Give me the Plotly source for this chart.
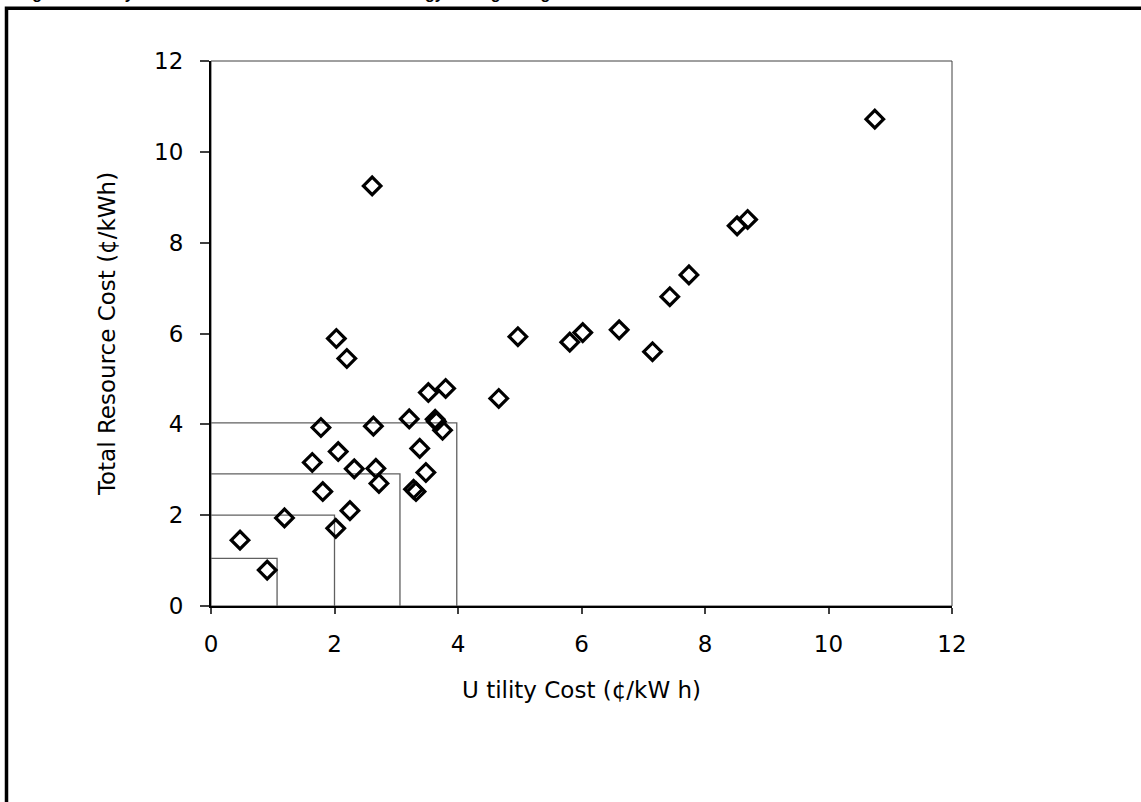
import plotly.graph_objects as go

# Program data: utility cost vs total resource cost (cents/kWh)
utility_cost = [0.47, 0.91, 1.19, 1.64, 1.78, 1.81, 2.02, 2.03, 2.06, 2.20, 2.25, 2.32,
                2.61, 2.63, 2.67, 2.72, 3.21, 3.28, 3.32, 3.38, 3.48, 3.52, 3.63, 3.65,
                3.75, 3.80, 4.66, 4.97, 5.81, 6.02, 6.61, 7.15, 7.43, 7.74, 8.52, 8.69, 10.75]
total_resource_cost = [1.45, 0.79, 1.94, 3.16, 3.93, 2.52, 1.71, 5.89, 3.40, 5.45, 2.10, 3.02,
                       9.25, 3.96, 3.03, 2.70, 4.12, 2.57, 2.52, 3.47, 2.94, 4.70, 4.11, 4.06,
                       3.87, 4.79, 4.57, 5.93, 5.81, 6.02, 6.08, 5.60, 6.81, 7.29, 8.37, 8.51, 10.72]

# Reference step lines (corner points)
step_x = [1.07, 2.00, 3.06, 3.98]
step_y = [1.05, 2.00, 2.91, 4.03]

tick_vals = [0, 2, 4, 6, 8, 10, 12]
tick_text = ["0", "2", "4", "6", "8", "10", "12"]

W, H = 1141, 802
ML, MR, MT, MB = 211, 189, 61, 196
PW, PH = W - ML - MR, H - MT - MB

fig = go.Figure()

for sx, sy in zip(step_x, step_y):
    fig.add_trace(go.Scatter(
        x=[0, sx, sx], y=[sy, sy, 0], mode="lines",
        line=dict(color="#606060", width=1.3), hoverinfo="skip", showlegend=False))

fig.add_trace(go.Scatter(
    x=utility_cost, y=total_resource_cost, mode="markers",
    marker=dict(symbol="diamond-open", size=13.5, color="black",
                line=dict(color="black", width=3.2)),
    showlegend=False))

font = "DejaVu Sans, Liberation Sans, Arial, sans-serif"

fig.update_layout(
    width=W, height=H,
    margin=dict(l=ML, r=MR, t=MT, b=MB),
    paper_bgcolor="white", plot_bgcolor="white",
    font=dict(family=font, size=23, color="black"),
    xaxis=dict(range=[0, 12], tickvals=tick_vals, ticktext=tick_text,
               showgrid=False, zeroline=False, showline=True, linecolor="black", linewidth=2,
               ticks="outside", ticklen=6, tickwidth=1.5, tickcolor="#404040",
               ticklabelstandoff=10,
               title=dict(text="U tility Cost (¢/kW h)", standoff=26,
                          font=dict(family=font, size=23))),
    yaxis=dict(range=[0, 12], tickvals=tick_vals, ticktext=tick_text,
               showgrid=False, zeroline=False, showline=True, linecolor="black", linewidth=2,
               ticks="outside", ticklen=9, tickwidth=1.5, tickcolor="#404040",
               ticklabelstandoff=12,
               title=dict(text="Total Resource Cost (¢/kWh)", standoff=32,
                          font=dict(family=font, size=23))),
)

# plot frame (top/right thin)
fig.add_shape(type="rect", xref="paper", yref="paper", x0=0, x1=1, y0=0, y1=1,
              line=dict(color="#404040", width=1), layer="below")

# outer figure border (extends beyond the visible page on right/bottom)
def px_x(p):
    return (p - ML) / PW

def px_y(p):
    return (H - MB - p) / PH

fig.add_shape(type="rect", xref="paper", yref="paper",
              x0=px_x(6.5), x1=px_x(1160), y0=px_y(830), y1=px_y(8.3),
              line=dict(color="black", width=3.5))

# clipped figure caption at the very top
fig.add_annotation(xref="paper", yref="paper", x=px_x(16), y=px_y(4),
                   xanchor="left", yanchor="bottom", showarrow=False,
                   text="Figure 3. Utility Cost vs. Total Resource Cost for Energy Savings Programs",
                   font=dict(family="Liberation Sans, Arial, sans-serif", size=16,
                             color="black", weight="bold"))

fig.write_html("out.html",
               config={"displayModeBar": False},
               post_script="document.body.style.margin='0';document.body.style.overflow='hidden';")
